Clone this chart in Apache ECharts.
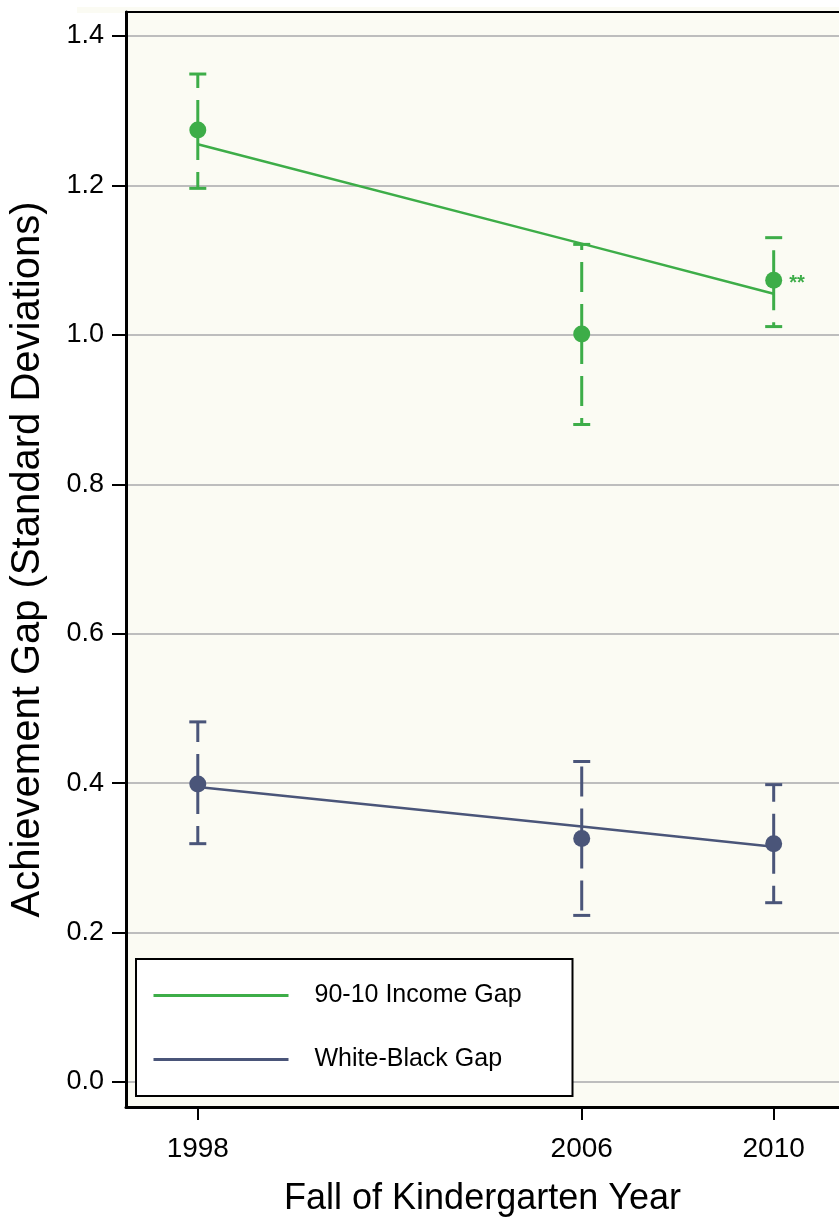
<!DOCTYPE html>
<html>
<head>
<meta charset="utf-8">
<script src="https://cdn.jsdelivr.net/npm/echarts@6/dist/echarts.min.js"></script>
<style>
  html, body { margin: 0; padding: 0; background: #fff; overflow: hidden; }
  #chart { width: 839px; height: 1222px; }
</style>
</head>
<body>
<div id="chart"></div>
<script>
// years on the x axis
const years = [1998, 2006, 2010];
const yTicks = [0, 0.2, 0.4, 0.6, 0.8, 1.0, 1.2, 1.4];

// 90-10 income gap
const incomePoint = [1.274, 1.001, 1.073];
const incomeLow = [1.196, 0.880, 1.011];
const incomeHigh = [1.349, 1.121, 1.130];
const incomeTrend = [1.255, 1.122, 1.055];
const incomeNotes = ['', '', '**'];

// white-black gap
const racePoint = [0.399, 0.326, 0.319];
const raceLow = [0.319, 0.223, 0.240];
const raceHigh = [0.482, 0.429, 0.398];
const raceTrend = [0.395, 0.342, 0.315];

const green = '#3dad48';
const slate = '#4a5579';

function errorSeries(name, color, point, low, high) {
    return {
        name: name,
        type: 'custom',
        z: 3,
        data: years.map((y, i) => [y, low[i], high[i], point[i]]),
        renderItem: function (params, api) {
            const x = api.coord([api.value(0), 0])[0];
            const lo = api.coord([0, api.value(1)])[1];
            const hi = api.coord([0, api.value(2)])[1];
            const mid = api.coord([0, api.value(3)])[1];
            const half = 8.5;
            const dash = { stroke: color, lineWidth: 3, lineDash: [30, 12] };
            const solid = { stroke: color, lineWidth: 3 };
            return {
                type: 'group',
                children: [
                    { type: 'line', shape: { x1: x, y1: mid, x2: x, y2: hi }, style: dash },
                    { type: 'line', shape: { x1: x, y1: mid, x2: x, y2: lo }, style: dash },
                    { type: 'line', shape: { x1: x - half, y1: hi, x2: x + half, y2: hi }, style: solid },
                    { type: 'line', shape: { x1: x - half, y1: lo, x2: x + half, y2: lo }, style: solid }
                ]
            };
        }
    };
}

let chart = echarts.init(document.getElementById('chart'));

let option = {
    animation: false,
    backgroundColor: '#ffffff',
    textStyle: { fontFamily: 'Liberation Sans, Arial, sans-serif' },
    graphic: [
        { type: 'rect', shape: { x: 77, y: 7, width: 770, height: 6 }, style: { fill: '#fbfbf3' }, z: -1 }
    ],
    grid: {
        left: 124,
        right: 0,
        top: 12,
        bottom: 113,
        show: true,
        backgroundColor: '#fbfbf3',
        borderWidth: 0
    },
    legend: {
        orient: 'vertical',
        left: 136,
        top: 959,
        data: ['90-10 Income Gap', 'White-Black Gap'],
        itemWidth: 135,
        itemHeight: 20,
        itemGap: 39,
        padding: [24, 24, 24, 16],
        backgroundColor: '#ffffff',
        borderColor: '#000',
        borderWidth: 2,
        borderRadius: 0,
        selectedMode: false,
        itemStyle: { opacity: 0 },
        lineStyle: { width: 3 },
        textStyle: {
            fontSize: 25,
            color: '#000',
            width: 234,
            lineHeight: 24,
            padding: [0, 0, 0, 21]
        }
    },
    xAxis: [
        {
            type: 'value',
            position: 'bottom',
            min: 1996.504,
            max: 2011.361,
            name: 'Fall of Kindergarten Year',
            nameLocation: 'middle',
            nameGap: 74,
            nameTextStyle: { fontSize: 36, color: '#000' },
            axisLine: { show: true, onZero: false, lineStyle: { color: '#000', width: 3 } },
            axisTick: { show: true, length: 13, lineStyle: { color: '#000', width: 2 }, customValues: years },
            axisLabel: { fontSize: 28, color: '#000', margin: 28, customValues: years, formatter: v => String(v) },
            splitLine: { show: false }
        },
        {
            type: 'value',
            position: 'top',
            min: 1996.504,
            max: 2011.361,
            axisLine: { show: true, onZero: false, lineStyle: { color: '#000', width: 2 } },
            axisTick: { show: false },
            axisLabel: { show: false },
            splitLine: { show: false }
        }
    ],
    yAxis: {
        type: 'value',
        min: -0.0334,
        max: 1.432,
        name: 'Achievement Gap (Standard Deviations)',
        nameLocation: 'middle',
        nameGap: 78,
        nameTextStyle: { fontSize: 40, color: '#000' },
        axisLine: { show: true, onZero: false, lineStyle: { color: '#000', width: 3 } },
        axisTick: { show: true, length: 14, lineStyle: { color: '#000', width: 2 }, customValues: yTicks },
        axisLabel: { fontSize: 27, color: '#000', margin: 22, customValues: yTicks, formatter: v => v.toFixed(1) },
        splitLine: { show: true, lineStyle: { color: '#bdbdbd', width: 2 } }
    },
    series: [
        {
            name: '90-10 Income Gap',
            type: 'line',
            symbol: 'none',
            z: 2,
            lineStyle: { color: green, width: 2.5 },
            itemStyle: { color: green },
            data: years.map((y, i) => [y, incomeTrend[i]])
        },
        {
            name: 'White-Black Gap',
            type: 'line',
            symbol: 'none',
            z: 2,
            lineStyle: { color: slate, width: 2.5 },
            itemStyle: { color: slate },
            data: years.map((y, i) => [y, raceTrend[i]])
        },
        errorSeries('income-ci', green, incomePoint, incomeLow, incomeHigh),
        errorSeries('race-ci', slate, racePoint, raceLow, raceHigh),
        {
            name: 'income-pt',
            type: 'scatter',
            symbolSize: 17,
            z: 4,
            itemStyle: { color: green, opacity: 1 },
            label: {
                show: true,
                position: 'right',
                distance: 7,
                color: green,
                fontSize: 20,
                fontWeight: 'bold',
                offset: [0, 3],
                formatter: p => incomeNotes[p.dataIndex]
            },
            data: years.map((y, i) => [y, incomePoint[i]])
        },
        {
            name: 'race-pt',
            type: 'scatter',
            symbolSize: 17,
            z: 4,
            itemStyle: { color: slate, opacity: 1 },
            data: years.map((y, i) => [y, racePoint[i]])
        }
    ]
};

chart.setOption(option);
</script>
</body>
</html>
